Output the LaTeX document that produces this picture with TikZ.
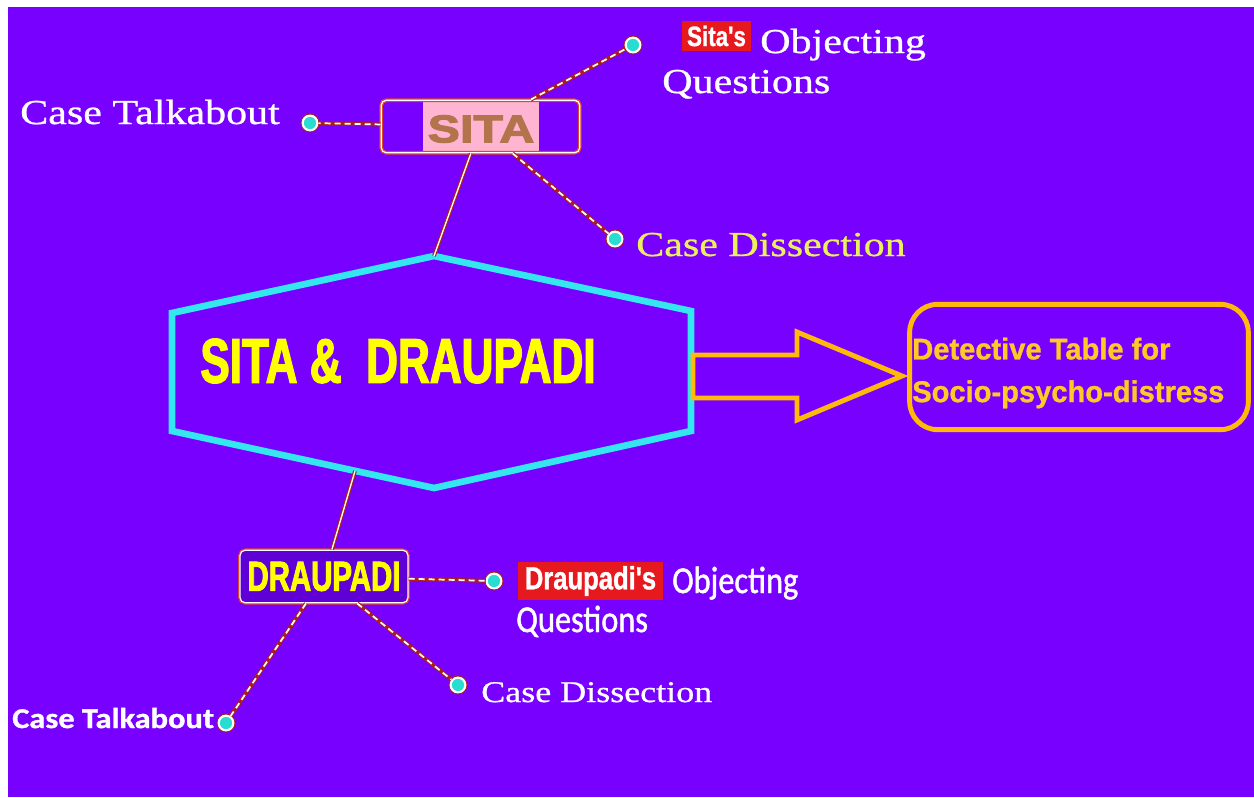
\documentclass[tikz,border=0pt]{standalone}
\usepackage{fontspec}
\setmainfont{Liberation Serif}
\newfontfamily\serifw{Liberation Serif}[FakeStretch=1.2,FakeBold=0.8]
\newfontfamily\titlef{Liberation Sans}[FakeStretch=0.7,FakeBold=2]
\newfontfamily\narrowf{Liberation Sans}[FakeStretch=0.8,FakeBold=1]
\newfontfamily\widef{Liberation Sans}[FakeStretch=1.25,FakeBold=3]
\newfontfamily\detf{Liberation Sans}[FakeStretch=0.97,FakeBold=1]
\newfontfamily\calf{Carlito}[FakeStretch=0.85,FakeBold=1.2]
\newfontfamily\calbf{Carlito}[FakeStretch=1.13,FakeBold=1.2]
\usetikzlibrary{calc}
\definecolor{bgpurple}{RGB}{119,0,255}
\definecolor{hexcyan}{RGB}{51,230,240}
\definecolor{dotcyan}{RGB}{40,220,210}
\definecolor{orangeline}{RGB}{255,185,10}
\definecolor{dettext}{RGB}{255,200,40}
\definecolor{titleyellow}{RGB}{255,255,0}
\definecolor{cred}{RGB}{170,30,30}
\definecolor{borderred}{RGB}{220,70,40}
\definecolor{pinkbg}{RGB}{255,180,210}
\definecolor{brownsita}{RGB}{180,115,75}
\definecolor{labelred}{RGB}{230,25,30}
\definecolor{paleyellow}{RGB}{235,240,90}
\definecolor{boxpurple}{RGB}{95,0,215}
\tikzset{
  dashlink/.style={draw=white, line width=1.3pt, dash pattern=on 4.5pt off 3pt,
    preaction={draw=cred, line width=3pt}},
  solidlink/.style={draw=white, line width=1pt,
    preaction={draw=cred, line width=2.8pt}},
  dotnode/.style={circle, fill=dotcyan, draw=white, line width=1.6pt,
    minimum size=11pt, inner sep=0pt, preaction={draw=cred, line width=3.2pt}},
  namebox/.style={rounded corners=4pt, draw=white, line width=0.9pt,
    preaction={draw=borderred, line width=2.8pt}, inner sep=0pt},
  serlabel/.style={anchor=base west, inner sep=0pt, text=white},
  redtag/.style={fill=labelred, text=white, inner sep=0pt},
  hexline/.style={draw=hexcyan, line width=5pt, line join=miter},
  arrowline/.style={draw=orangeline, line width=3.7pt, line join=miter},
}
\begin{document}
\begin{tikzpicture}[x=0.75pt,y=-0.75pt]
\useasboundingbox (0,0) rectangle (1254,797);
\fill[white] (0,0) rectangle (1254,797);
\fill[bgpurple] (8,7) rectangle (1254,797);

% pink highlight behind SITA
\fill[pinkbg] (423,101) rectangle (539,152);

% name boxes
\node[namebox, minimum width=149pt, minimum height=39.5pt] (sita) at (480.5,126.5) {};
\node[text=brownsita, inner sep=0pt, font=\widef\bfseries\fontsize{29}{32}\selectfont] (sitatext) at (481,129) {SITA};
\node[namebox, fill=boxpurple, minimum width=126pt, minimum height=39.5pt] (draup) at (324,576.5)
  {\titlef\bfseries\fontsize{31.5}{34}\selectfont\color{titleyellow}DRAUPADI};

% dots
\node[dotnode] (d1) at (310,123) {};
\node[dotnode] (d2) at (633,45) {};
\node[dotnode] (d3) at (615,239) {};
\node[dotnode] (d4) at (494,581) {};
\node[dotnode] (d5) at (458,685) {};
\node[dotnode] (d6) at (226,723) {};

% hexagon
\coordinate (htop) at (434,256);
\coordinate (hur) at (691,311);
\coordinate (hlr) at (691,431);
\coordinate (hbot) at (434,488);
\coordinate (hll) at (172,431);
\coordinate (hul) at (172,313);
\coordinate (hconn) at (355,471);
\draw[hexline] (htop) -- (hur) -- (hlr) -- (hbot) -- (hll) -- (hul) -- cycle;
\node[inner sep=0pt, text=titleyellow, font=\titlef\bfseries\fontsize{47.25}{50}\selectfont] (title) at (398,361) {SITA \&\ \ DRAUPADI};

% connectors
\draw[dashlink] (sita) -- (d1);
\draw[dashlink] (sita) -- (d2);
\draw[dashlink] (sita) -- (d3);
\draw[solidlink] (sita) -- (htop);
\draw[solidlink] (hconn) -- (draup);
\draw[dashlink] (draup) -- (d4);
\draw[dashlink] (draup) -- (d5);
\draw[dashlink] (draup) -- (d6);

% detective box and block arrow
\node[draw=orangeline, line width=3.7pt, rounded corners=21pt, minimum width=254pt, minimum height=94pt] (det) at (1079,367) {};
\coordinate (tip) at (902,376);
\draw[arrowline] (693,355) -- (797,355) -- (797,332) -- (tip) -- (797,420) -- (797,398) -- (693,398) -- cycle;
\node[anchor=west, inner sep=0pt, align=left, text=dettext, font=\detf\bfseries\fontsize{22.5}{32}\selectfont] (dettxt) at (912,373) {Detective Table for\\Socio-psycho-distress};

% upper labels
\node[serlabel, font=\serifw\fontsize{26.25}{30}\selectfont] (ct1) at (20,124) {Case Talkabout};
\node[redtag, minimum width=51.75pt, minimum height=22.5pt, font=\narrowf\bfseries\fontsize{21}{24}\selectfont] (sitas) at (716.5,36) {Sita's};
\node[serlabel, font=\serifw\fontsize{26.25}{30}\selectfont] (obj1) at (760,53) {Objecting};
\node[serlabel, font=\serifw\fontsize{26.25}{30}\selectfont] (q1) at (662,93) {Questions};
\node[serlabel, text=paleyellow, font=\serifw\fontsize{26.25}{30}\selectfont] (cd1) at (636,256) {Case Dissection};

% lower labels
\node[redtag, minimum width=108.75pt, minimum height=28.5pt, font=\narrowf\bfseries\fontsize{24}{27}\selectfont] (draups) at (590.5,581) {Draupadi's};
\node[serlabel, font=\calf\fontsize{28.5}{31}\selectfont] (obj2) at (672,593) {Objecting};
\node[serlabel, font=\calf\fontsize{28.5}{31}\selectfont] (q2) at (516,632) {Questions};
\node[serlabel, font=\serifw\fontsize{22.5}{26}\selectfont] (cd2) at (481,702) {Case Dissection};
\node[serlabel, font=\calbf\bfseries\fontsize{21.5}{24}\selectfont] (ct2) at (12,728) {Case Talkabout};
\end{tikzpicture}
\end{document}
